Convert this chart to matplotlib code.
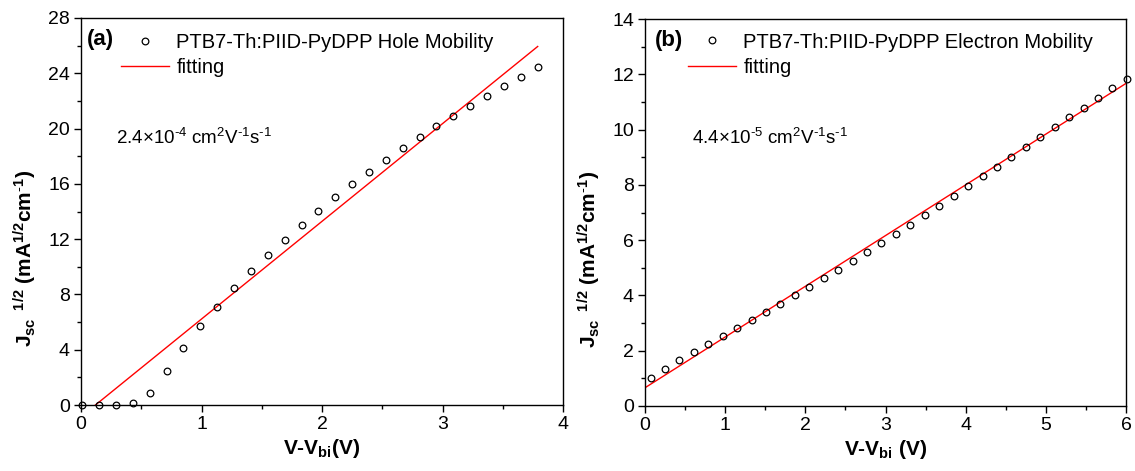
import matplotlib
matplotlib.use("Agg")
import matplotlib.pyplot as plt
from matplotlib.ticker import MultipleLocator

plt.rcParams['font.family'] = ['Liberation Sans', 'DejaVu Sans']
plt.rcParams['mathtext.fontset'] = 'custom'
plt.rcParams['mathtext.rm'] = 'Liberation Sans'
plt.rcParams['mathtext.bf'] = 'Liberation Sans:bold'
plt.rcParams['mathtext.it'] = 'Liberation Sans'
plt.rcParams['mathtext.default'] = 'regular'

# Panel (a): hole mobility
hole_v = [0.01, 0.15, 0.29, 0.43, 0.57, 0.71, 0.85, 0.99, 1.13, 1.27, 1.41, 1.55, 1.69, 1.83,
          1.97, 2.11, 2.25, 2.39, 2.53, 2.67, 2.81, 2.95, 3.09, 3.23, 3.37, 3.51, 3.65, 3.79]
hole_j = [0.0, 0.0, 0.0, 0.14, 0.87, 2.43, 4.12, 5.68, 7.10, 8.45, 9.68, 10.83, 11.96, 13.02,
          14.03, 15.02, 15.96, 16.84, 17.71, 18.58, 19.37, 20.17, 20.92, 21.66, 22.38, 23.08, 23.75, 24.43]
hole_fit_v = [0.12, 3.79]
hole_fit_j = [0.0, 25.94]

# Panel (b): electron mobility
elec_v = [0.07, 0.25, 0.43, 0.61, 0.79, 0.97, 1.15, 1.33, 1.51, 1.69, 1.87, 2.05, 2.23, 2.41,
          2.59, 2.77, 2.95, 3.13, 3.31, 3.49, 3.67, 3.85, 4.03, 4.21, 4.39, 4.57, 4.75, 4.93,
          5.11, 5.29, 5.47, 5.65, 5.83, 6.01]
elec_j = [1.00, 1.34, 1.65, 1.95, 2.25, 2.53, 2.81, 3.11, 3.41, 3.70, 4.00, 4.32, 4.62, 4.93,
          5.25, 5.57, 5.90, 6.24, 6.56, 6.91, 7.25, 7.60, 7.95, 8.31, 8.66, 9.02, 9.38, 9.73,
          10.09, 10.44, 10.79, 11.15, 11.49, 11.83]
elec_fit_v = [0.0, 6.0]
elec_fit_j = [0.66, 11.67]

W, H = 1135, 471
fig = plt.figure(figsize=(W / 100, H / 100), dpi=100)

def axrect(l, r, t, b):
    return [l / W, 1 - b / H, (r - l) / W, (b - t) / H]

ax1 = fig.add_axes(axrect(81, 563, 18, 405))
ax2 = fig.add_axes(axrect(645, 1126, 19, 406))

ylab = r'$\mathbf{J_{sc}}^{\ \ \mathbf{1/2}}$ (mA$^{\mathbf{1/2}}$cm$^{\mathbf{\text{-}1}}$)'

def style(ax, xmax, ymax, xmaj, ymaj, ymin_step):
    ax.set_xlim(0, xmax)
    ax.set_ylim(0, ymax)
    ax.xaxis.set_major_locator(MultipleLocator(xmaj))
    ax.xaxis.set_minor_locator(MultipleLocator(0.5))
    ax.yaxis.set_major_locator(MultipleLocator(ymaj))
    ax.yaxis.set_minor_locator(MultipleLocator(ymin_step))
    ax.tick_params(which='major', direction='out', length=5, width=1, labelsize=14, pad=3)
    ax.tick_params(which='minor', direction='out', length=3, width=1)
    for s in ax.spines.values():
        s.set_linewidth(1.0)
    ax.set_ylabel(ylab, fontsize=15, fontweight='bold')
    ax.yaxis.set_label_coords(-0.087, 0.38)

# Panel (a)
ax1.plot(hole_v, hole_j, 'o', mfc='none', mec='black', ms=4.8, mew=0.9,
         label='PTB7-Th:PIID-PyDPP Hole Mobility', clip_on=False, zorder=3)
ax1.plot(hole_fit_v, hole_fit_j, '-', color='red', lw=1.0, label='fitting')
style(ax1, 4, 28, 1, 4, 2)
ax1.set_xlabel(r'V-V$_{\mathbf{bi}}$(V)', fontsize=15, fontweight='bold', labelpad=3)
ax1.text(0.29, 19.3, r'2.4×10$^{\text{-}4}$ cm$^{2}$V$^{\text{-}1}$s$^{\text{-}1}$', fontsize=13.5, va='center', ha='left')
ax1.text(0.013, 0.945, '(a)', transform=ax1.transAxes, fontsize=16, fontweight='bold', va='center', ha='left')
ax1.legend(loc='upper left', bbox_to_anchor=(0.083, 0.9615), frameon=False, fontsize=14.5,
           handlelength=2.4, handletextpad=0.35, labelspacing=0.3, borderpad=0, borderaxespad=0)

# Panel (b)
ax2.plot(elec_v, elec_j, 'o', mfc='none', mec='black', ms=4.8, mew=0.9,
         label='PTB7-Th:PIID-PyDPP Electron Mobility', clip_on=False, zorder=3)
ax2.plot(elec_fit_v, elec_fit_j, '-', color='red', lw=1.0, label='fitting')
style(ax2, 6, 14, 1, 2, 1)
ax2.set_xlabel(r'V-V$_{\mathbf{bi}}$ (V)', fontsize=15, fontweight='bold', labelpad=3)
ax2.text(0.59, 9.7, r'4.4×10$^{\text{-}5}$ cm$^{2}$V$^{\text{-}1}$s$^{\text{-}1}$', fontsize=13.5, va='center', ha='left')
ax2.text(0.02, 0.945, '(b)', transform=ax2.transAxes, fontsize=16, fontweight='bold', va='center', ha='left')
ax2.legend(loc='upper left', bbox_to_anchor=(0.0896, 0.965), frameon=False, fontsize=14.5,
           handlelength=2.4, handletextpad=0.35, labelspacing=0.3, borderpad=0, borderaxespad=0)

fig.savefig('out.png', dpi=100)
